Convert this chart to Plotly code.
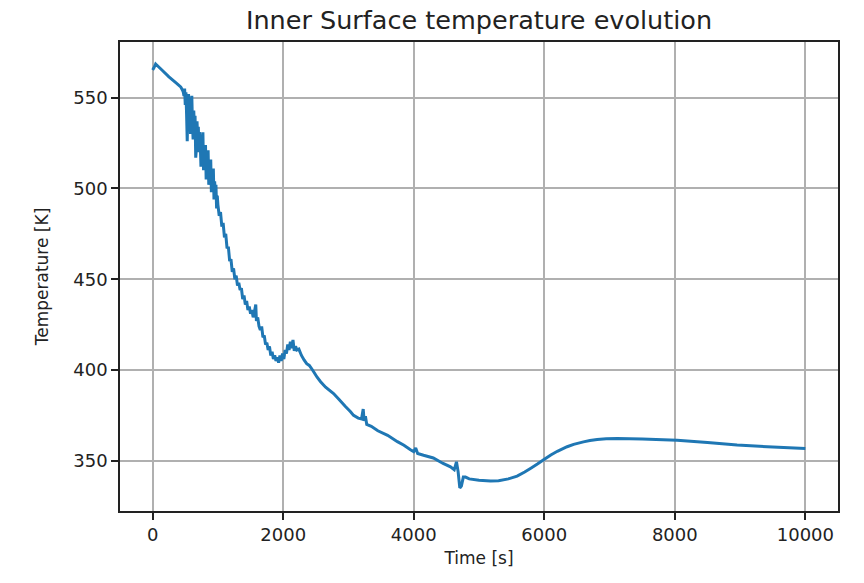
import plotly.graph_objects as go

# Time [s] and inner surface temperature [K]
time_s = [
    0, 20, 46, 150, 250, 350, 430, 460,
    470, 480, 490, 500, 510, 520, 530, 540, 550, 560, 570, 580, 590, 600,
    610, 620, 630, 640, 650, 660, 670, 680, 690, 700, 710, 720, 730, 740,
    750, 760, 770, 780, 790, 800, 810, 820, 830, 840, 850, 860, 870, 880,
    890, 900, 910, 920, 930, 940, 950, 960, 970, 980, 990, 1000,
    1020, 1040, 1060, 1080, 1100, 1120, 1140, 1160, 1180, 1200, 1220, 1240,
    1260, 1280, 1300, 1320, 1340,
    1360, 1380, 1400, 1420, 1440, 1460, 1480, 1500, 1520, 1540, 1560, 1580,
    1590, 1610, 1630, 1650, 1670, 1690, 1710, 1730, 1750, 1770, 1790, 1810,
    1830, 1850, 1870, 1890, 1910, 1930, 1950, 1970, 1990, 2010, 2030, 2050,
    2070, 2090, 2110, 2130, 2150, 2170, 2190, 2210, 2240, 2280, 2320, 2360,
    2400, 2450, 2520,
    2573, 2650, 2772, 2850, 2950, 3032, 3078, 3150, 3200, 3226, 3240, 3260,
    3280, 3350, 3450, 3600, 3750, 3850, 3950, 4000, 4030, 4060, 4150, 4300,
    4450, 4563, 4620, 4655, 4680, 4706, 4730, 4760, 4793, 4850, 5000, 5176,
    5300, 5450, 5584, 5700, 5800, 5900, 5990, 6100, 6200, 6350, 6450, 6600,
    6700, 6810, 6950, 7116, 7500, 8035, 8500, 8954, 9500, 10000,
]
temperature_K = [
    565.3, 566.5, 568.6, 565.0, 561.5, 558.5, 556.0, 554.0,
    553.0, 551.0, 555.0, 546.0, 553.0, 541.0, 526.0, 545.0, 552.0, 538.0, 548.0, 530.0, 544.0, 551.0,
    536.0, 527.0, 543.0, 533.0, 540.0, 517.0, 522.0, 537.0, 528.0, 534.0, 520.0, 531.0, 525.0, 512.0,
    528.0, 519.0, 531.0, 510.0, 522.0, 515.0, 524.0, 505.0, 518.0, 511.0, 521.0, 502.0, 514.0, 506.0,
    516.0, 498.0, 509.0, 501.0, 511.0, 494.0, 504.0, 497.0, 502.0, 489.0, 496.0, 491.0,
    485.0, 487.0, 479.0, 481.0, 473.0, 475.0, 467.0, 468.0, 460.0, 461.0, 454.0, 456.0,
    450.0, 452.0, 446.5, 448.0, 444.0,
    445.0, 439.0, 441.0, 436.0, 438.0, 433.0, 435.0, 431.0, 433.0, 429.0, 432.0, 436.0,
    427.0, 429.0, 424.0, 422.0, 424.0, 418.0, 419.0, 414.0, 415.0, 411.0, 413.0, 408.0,
    410.0, 406.0, 408.0, 405.0, 407.0, 404.0, 408.0, 405.0, 409.0, 406.0, 411.0, 409.0,
    414.0, 411.0, 415.5, 412.0, 416.5, 410.5, 413.0, 411.0, 411.5, 408.0, 405.5, 403.5,
    402.5, 400.0, 396.0,
    393.5, 390.5, 387.0, 384.0, 380.0, 377.0, 375.0, 373.5, 373.0, 378.5, 372.0, 374.5,
    370.0, 369.0, 366.5, 364.0, 360.5, 358.5, 356.0, 355.0, 357.0, 354.0, 353.0, 351.5,
    348.5, 346.6, 345.0, 349.4, 344.0, 335.0, 336.0, 341.0, 341.0, 340.0, 339.2, 338.8,
    339.0, 340.0, 341.5, 343.8, 346.0, 348.3, 350.5, 353.2, 355.2, 357.7, 359.0, 360.4,
    361.1, 361.7, 362.1, 362.3, 362.0, 361.3, 360.0, 358.6, 357.6, 356.8,
]

x_ticks = [0, 2000, 4000, 6000, 8000, 10000]
x_tick_text = ["0", "2000", "4000", "6000", "8000", "10000"]
y_ticks = [350, 400, 450, 500, 550]

font_family = "DejaVu Sans"

fig = go.Figure()
fig.add_trace(go.Scatter(
    x=time_s, y=temperature_K, mode="lines",
    line=dict(color="#1f77b4", width=3, simplify=False),
    showlegend=False,
))

axis_common = dict(
    showline=True, mirror=True, linecolor="#222", linewidth=1.6,
    showgrid=True, gridcolor="#b0b0b0", gridwidth=1.6,
    ticks="outside", ticklen=7, tickwidth=1.6, tickcolor="#222",
    zeroline=False,
    tickfont=dict(family=font_family, size=18, color="#222"),
    title_font=dict(family=font_family, size=17, color="#222"),
)

fig.update_layout(
    width=864, height=583,
    margin=dict(l=120, r=26, t=42, b=72),
    paper_bgcolor="white", plot_bgcolor="white",
    title=dict(text="Inner Surface temperature evolution",
               x=479 / 864, xanchor="center",
               y=1 - 20 / 583, yanchor="middle",
               font=dict(family=font_family, size=25.5, color="#222")),
    xaxis=dict(range=[-500, 10500], tickvals=x_ticks, ticktext=x_tick_text,
               title=dict(text="Time [s]", standoff=8), **axis_common),
    yaxis=dict(range=[322.3, 580.7], tickvals=y_ticks,
               title=dict(text="Temperature [K]", standoff=20), **axis_common),
)

fig.write_html("out.html")
